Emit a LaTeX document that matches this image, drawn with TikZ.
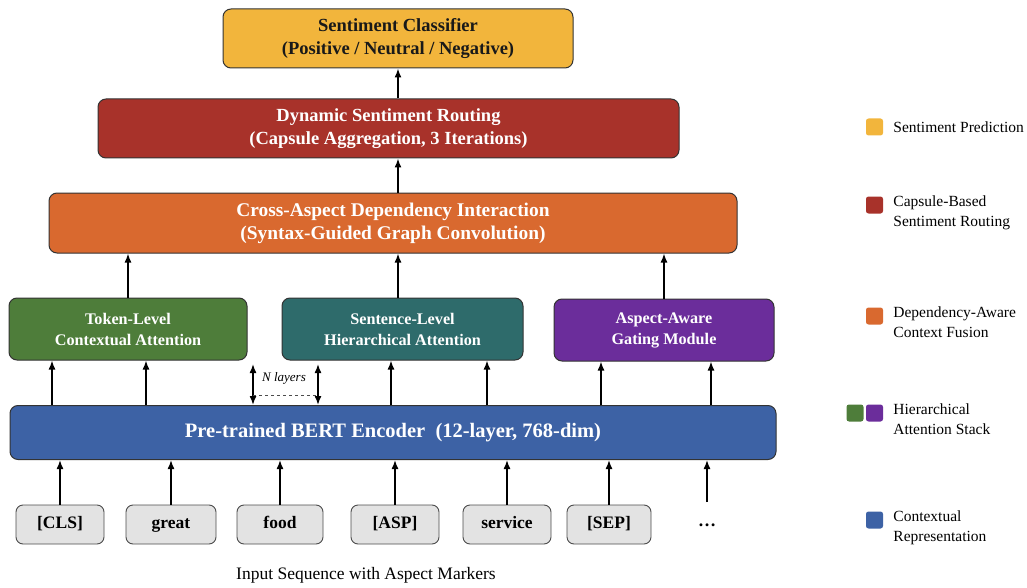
\documentclass[tikz,border=0pt]{standalone}
\usepackage{fontspec}
\setmainfont{Liberation Serif}
\usetikzlibrary{positioning,arrows.meta}

\definecolor{clsyellow}{HTML}{F2B53C}
\definecolor{routered}{HTML}{A8322A}
\definecolor{fuseorange}{HTML}{D9692F}
\definecolor{attgreen}{HTML}{4E7D3A}
\definecolor{attteal}{HTML}{2E6B6B}
\definecolor{attpurple}{HTML}{6B2D9B}
\definecolor{bertblue}{HTML}{3D62A5}
\definecolor{tokgray}{HTML}{E3E3E3}

\begin{document}
\begin{tikzpicture}[x=1pt,y=-1pt,
    block/.style={draw=black!80,line width=1pt,rounded corners=8pt,align=center,text=white,
        font=\bfseries\fontsize{18.5}{23}\selectfont,inner sep=0pt},
    attbox/.style={block,minimum width=#1,minimum height=62,font=\bfseries\fontsize{16.2}{21}\selectfont},
    tok/.style={draw=black!70,line width=0.9pt,fill=tokgray,rounded corners=7pt,minimum height=39,
        minimum width=#1,text height=12pt,text depth=3.5pt,
        font=\bfseries\fontsize{17.5}{20}\selectfont,inner sep=0pt},
    legsq/.style={fill=#1,minimum size=17,rounded corners=2.5pt,inner sep=0pt},
    legtxt/.style={anchor=west,align=left,font=\fontsize{15.5}{19.5}\selectfont,inner sep=0pt},
    up/.style={-{Latex[length=9pt,width=7pt]},line width=1.5pt}]
    \useasboundingbox (0,0) rectangle (1027,588);

    % main stack
    \node[block,fill=clsyellow,text=black!90,minimum width=350,minimum height=59] (classifier) at (398,38.5)
        {Sentiment Classifier\\(Positive / Neutral / Negative)};
    \node[block,fill=routered,minimum width=581,minimum height=59] (routing) at (388.5,128.5)
        {Dynamic Sentiment Routing\\(Capsule Aggregation, 3 Iterations)};
    \node[block,fill=fuseorange,minimum width=688,minimum height=60,font=\bfseries\fontsize{19.4}{23}\selectfont] (crossasp) at (393,223)
        {Cross-Aspect Dependency Interaction\\(Syntax-Guided Graph Convolution)};

    \node[attbox=238,fill=attgreen] (tokatt) at (128,329) {Token-Level\\Contextual Attention};
    \node[attbox=241,fill=attteal] (sentatt) at (402.5,329) {Sentence-Level\\Hierarchical Attention};
    \node[attbox=220,fill=attpurple] (aspgate) at (664,330) {Aspect-Aware\\Gating Module};

    \node[block,fill=bertblue,minimum width=766,minimum height=54,font=\bfseries\fontsize{20.5}{24}\selectfont] (bert) at (393,432.5)
        {Pre-trained BERT Encoder\ \ (12-layer, 768-dim)};

    % input tokens
    \node[tok=88] (t1) at (60,524.5) {[CLS]};
    \node[tok=90] (t2) at (171,524.5) {great};
    \node[tok=86] (t3) at (280,524.5) {food};
    \node[tok=88] (t4) at (395,524.5) {[ASP]};
    \node[tok=88] (t5) at (507,524.5) {service};
    \node[tok=84] (t6) at (609,524.5) {[SEP]};
    \node[font=\bfseries\fontsize{18}{20}\selectfont] (tdots) at (707,525) {\dots};
    \coordinate (tdtop) at (707,502);
    \node[font=\fontsize{17.5}{20}\selectfont] (caption) at (366,575) {Input Sequence with Aspect Markers};

    % arrows
    \foreach \t in {t1,t2,t3,t4,t5,t6}
        \draw[up] (\t.north) -- (\t.north |- bert.south);
    \draw[up] (tdtop) -- (tdtop |- bert.south);

    \foreach \x/\t in {52/tokatt,146/tokatt,391/sentatt,487/sentatt,601/aspgate,711/aspgate}
        \draw[up] (bert.north -| \x,0) -- (\t.south -| \x,0);

    % N layers marker
    \coordinate (nla) at (253,364);
    \coordinate (nlb) at (318,364);
    \draw[{Latex[length=9pt,width=7pt]}-{Latex[length=9pt,width=7pt]},line width=1.5pt] (nla) -- (nla |- bert.north);
    \draw[{Latex[length=9pt,width=7pt]}-{Latex[length=9pt,width=7pt]},line width=1.5pt] (nlb) -- (nlb |- bert.north);
    \draw[dashed,black!70] (253,395) -- (318,395);
    \node[font=\itshape\fontsize{13}{15}\selectfont] (nlabel) at (284,378) {N layers};

    \draw[up] (tokatt.north) -- (tokatt.north |- crossasp.south);
    \draw[up] (classifier.south |- sentatt.north) -- (classifier.south |- crossasp.south);
    \draw[up] (aspgate.north) -- (aspgate.north |- crossasp.south);
    \draw[up] (classifier.south |- crossasp.north) -- (classifier.south |- routing.south);
    \draw[up] (classifier.south |- routing.north) -- (classifier.south);

    % legend
    \node[legsq=clsyellow] (lg1) at (874.5,127) {};
    \node[legtxt,right=10pt of lg1] (lt1) {Sentiment Prediction};
    \node[legsq=routered] (lg2) at (874.5,205) {};
    \node[legtxt,right=10pt of lg2,anchor=north west,yshift=9pt] (lt2) {Capsule-Based\\Sentiment Routing};
    \node[legsq=fuseorange] (lg3) at (874.5,316) {};
    \node[legtxt,right=10pt of lg3,anchor=north west,yshift=9pt] (lt3) {Dependency-Aware\\Context Fusion};
    \node[legsq=attgreen] (lg4a) at (855,413) {};
    \node[legsq=attpurple] (lg4) at (874.5,413) {};
    \node[legtxt,right=10pt of lg4,anchor=north west,yshift=9pt] (lt4) {Hierarchical\\Attention Stack};
    \node[legsq=bertblue] (lg5) at (874.5,520) {};
    \node[legtxt,right=10pt of lg5,anchor=north west,yshift=9pt] (lt5) {Contextual\\Representation};
\end{tikzpicture}
\end{document}
